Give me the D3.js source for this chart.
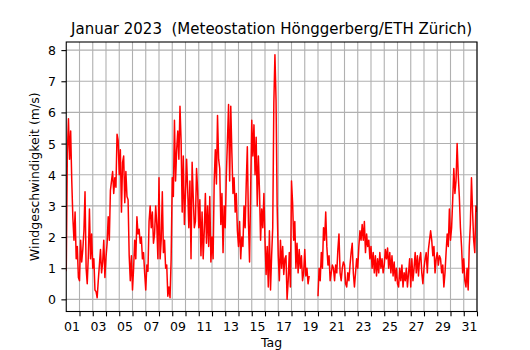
<!DOCTYPE html>
<html>
<head>
<meta charset="utf-8">
<script src="https://cdn.jsdelivr.net/npm/d3@7"></script>
<style>
  body { margin: 0; background: #fff; }
  text { font-family: "DejaVu Sans", sans-serif; fill: #000; }
</style>
</head>
<body>
<div id="chart"></div>
<script>
const width = 530;
const height = 350;

// wind speed (m/s), 12 readings per day (every 2 h)
const samplesPerDay = 12;
const wind = [
  0.9, 4.7, 5.8, 4.5, 5.4, 3.8, 2.6, 1.9, 2.8, 1.3, 1.7, 0.7,
  0.6, 1.9, 1.2, 1.6, 2.2, 3.45, 1.0, 0.5, 1.4, 2.9, 1.3, 2.1,
  1.0, 1.3, 0.3, 0.25, 0.05, 0.6, 1.1, 1.6, 0.85, 1.2, 1.9, 0.7,
  1.35, 1.8, 2.65, 1.9, 3.5, 3.8, 4.1, 3.4, 3.9, 3.6, 5.3, 5.1,
  4.0, 4.8, 2.8, 4.4, 4.6, 3.1, 4.1, 3.3, 3.2, 1.4, 0.6, 1.4,
  0.3, 1.0, 1.9, 1.3, 2.65, 2.1, 2.25, 1.8, 2.0, 1.3, 1.5, 0.85,
  0.3, 1.1, 0.9, 2.5, 3.0, 2.3, 2.8, 1.8, 2.1, 3.0, 2.4, 1.3,
  3.9, 1.3, 1.9, 3.45, 1.5, 1.9, 1.0, 1.1, 0.1, 0.4, 0.05, 1.3,
  3.9, 3.3, 5.75, 3.8, 4.8, 5.4, 4.5, 6.2, 5.1, 2.8, 4.6, 2.4,
  3.4, 4.5, 3.5, 2.3, 3.8, 1.3, 4.4, 3.3, 2.3, 2.5, 4.2, 3.5,
  2.3, 3.2, 1.4, 2.8, 1.3, 2.2, 3.4, 1.8, 3.0, 1.7, 3.3, 1.2,
  2.0, 1.3, 3.8, 4.8, 3.7, 5.9, 4.5, 4.2, 2.4, 3.4, 1.5, 3.0,
  2.3, 4.0, 5.1, 6.25, 3.8, 6.2, 4.7, 3.4, 3.9, 2.8, 3.4, 2.2,
  1.7, 2.5, 1.3, 2.0, 1.7, 3.0, 2.3, 3.7, 4.9, 2.5, 1.2, 3.5,
  5.75, 4.6, 5.6, 4.0, 5.2, 3.0, 4.6, 3.5, 1.9, 2.9, 2.3, 3.4,
  1.9, 0.8, 1.7, 0.4, 2.2, 0.3, 1.4, 2.3, 6.3, 7.85, 6.4, 3.0,
  1.4, 0.6, 1.9, 1.0, 1.7, 0.8, 1.3, 1.4, 0.0, 0.6, 1.5, 0.4,
  3.8, 3.1, 1.9, 2.5, 1.0, 1.8, 0.85, 1.6, 1.0, 1.4, 0.6, 0.85,
  1.6, 0.75, 1.0, 0.5, 0.75, null, null, null, null, null, null, null,
  0.1, 1.0, 0.6, 1.5, 1.0, 2.3, 1.9, 2.8, 1.7, 1.1, 1.4, 0.6,
  0.85, 1.1, 1.0, 0.6, 1.1, 0.85, 1.6, 2.1, 0.85, 0.6, 1.0, 1.2,
  1.1, 0.5, 0.4, 0.85, 0.6, 1.1, 1.5, 1.8, 0.85, 0.4, 0.85, 1.3,
  1.0, 1.7, 2.2, 1.9, 2.4, 1.9, 2.5, 1.5, 2.1, 1.7, 1.9, 1.3,
  1.7, 1.0, 1.5, 0.85, 1.4, 0.75, 1.3, 0.85, 1.5, 1.0, 1.3, 0.85,
  1.1, 1.6, 1.3, 1.65, 1.0, 1.5, 0.85, 1.4, 0.75, 1.2, 0.6, 1.0,
  0.5, 0.4, 1.0, 0.6, 1.1, 0.4, 0.85, 0.6, 1.0, 0.4, 0.85, 1.3,
  0.4, 1.3, 0.6, 1.0, 1.5, 0.85, 1.4, 0.75, 1.3, 1.5, 0.85, 0.5,
  1.0, 1.3, 1.5, 0.85, 1.6, 1.9, 2.2, 1.9, 1.4, 1.7, 0.85, 1.3,
  1.5, 1.1, 1.4, 1.3, 0.85, 1.1, 0.4, 0.85, 1.5, 2.1, 1.7, 2.9,
  1.9, 2.3, 3.2, 4.2, 3.4, 3.8, 5.0, 4.0, 3.3, 2.3, 1.7, 0.85,
  1.3, 0.6, 0.4, 1.0, 0.3, 1.7, 2.4, 3.9, 2.8, 1.9, 1.5, 3.0,
  2.8
];

const dayTicks = d3.range(1, 32);
const yTicks = [0, 1, 2, 3, 4, 5, 6, 7, 8];

const titleText = "Januar 2023  (Meteostation Hönggerberg/ETH Zürich)";
const xLabel = "Tag";
const yLabel = "Windgeschwindigkeit (m/s)";

// axes box like matplotlib default subplot
const plotLeft = 66.25, plotRight = 477, plotTop = 42, plotBottom = 311.5;
const tick = 4.86;
const fontSize = 12.5;

const x = d3.scaleLinear().domain([0, 31]).range([plotLeft, plotRight]);
const y = d3.scaleLinear().domain([-0.39, 8.26]).range([plotBottom, plotTop]);

const svg = d3.select("#chart").append("svg")
  .attr("width", width)
  .attr("height", height);

svg.append("rect")
  .attr("width", width)
  .attr("height", height)
  .attr("fill", "#fff");

// grid
const grid = svg.append("g")
  .attr("stroke", "#b0b0b0")
  .attr("stroke-width", 1.1);

grid.selectAll("line.v")
  .data(dayTicks)
  .join("line")
  .attr("class", "v")
  .attr("x1", d => x(d)).attr("x2", d => x(d))
  .attr("y1", plotTop).attr("y2", plotBottom);

grid.selectAll("line.h")
  .data(yTicks)
  .join("line")
  .attr("class", "h")
  .attr("x1", plotLeft).attr("x2", plotRight)
  .attr("y1", d => y(d)).attr("y2", d => y(d));

// data line
svg.append("clipPath")
  .attr("id", "plot")
  .append("rect")
  .attr("x", plotLeft).attr("y", plotTop)
  .attr("width", plotRight - plotLeft).attr("height", plotBottom - plotTop);

const line = d3.line()
  .defined(d => d != null)
  .x((d, i) => x(i / samplesPerDay))
  .y(d => y(d));

svg.append("path")
  .datum(wind)
  .attr("clip-path", "url(#plot)")
  .attr("fill", "none")
  .attr("stroke", "#ff0000")
  .attr("stroke-width", 1.5)
  .attr("stroke-linejoin", "round")
  .attr("d", line);

// axes
const xAxis = d3.axisBottom(x)
  .tickValues(dayTicks)
  .tickSize(tick)
  .tickPadding(6.1)
  .tickFormat(d => d % 2 === 1 ? d3.format("02d")(d) : "");

const gx = svg.append("g")
  .attr("transform", `translate(0,${plotBottom})`)
  .call(xAxis);

gx.select(".domain").remove();
gx.selectAll(".tick line").attr("stroke", "#000").attr("stroke-width", 1.1);
gx.selectAll(".tick text")
  .attr("text-anchor", "end")
  .attr("font-family", "DejaVu Sans")
  .attr("font-size", fontSize);

const yAxis = d3.axisLeft(y)
  .tickValues(yTicks)
  .tickSize(tick)
  .tickPadding(5.5);

const gy = svg.append("g")
  .attr("transform", `translate(${plotLeft},0)`)
  .call(yAxis);

gy.select(".domain").remove();
gy.selectAll(".tick line").attr("stroke", "#000").attr("stroke-width", 1.1);
gy.selectAll(".tick text")
  .attr("dy", "0.36em")
  .attr("font-family", "DejaVu Sans")
  .attr("font-size", fontSize);

// spines
svg.append("rect")
  .attr("x", plotLeft).attr("y", plotTop)
  .attr("width", plotRight - plotLeft).attr("height", plotBottom - plotTop)
  .attr("fill", "none")
  .attr("stroke", "#000")
  .attr("stroke-width", 1.1);

// labels
svg.append("text")
  .attr("x", (plotLeft + plotRight) / 2)
  .attr("y", 34)
  .attr("text-anchor", "middle")
  .attr("font-size", 15)
  .style("white-space", "pre")
  .text(titleText);

svg.append("text")
  .attr("x", (plotLeft + plotRight) / 2)
  .attr("y", 347)
  .attr("text-anchor", "middle")
  .attr("font-size", fontSize)
  .text(xLabel);

svg.append("text")
  .attr("transform", `translate(39,${(plotTop + plotBottom) / 2}) rotate(-90)`)
  .attr("text-anchor", "middle")
  .attr("font-size", fontSize)
  .text(yLabel);
</script>
</body>
</html>
